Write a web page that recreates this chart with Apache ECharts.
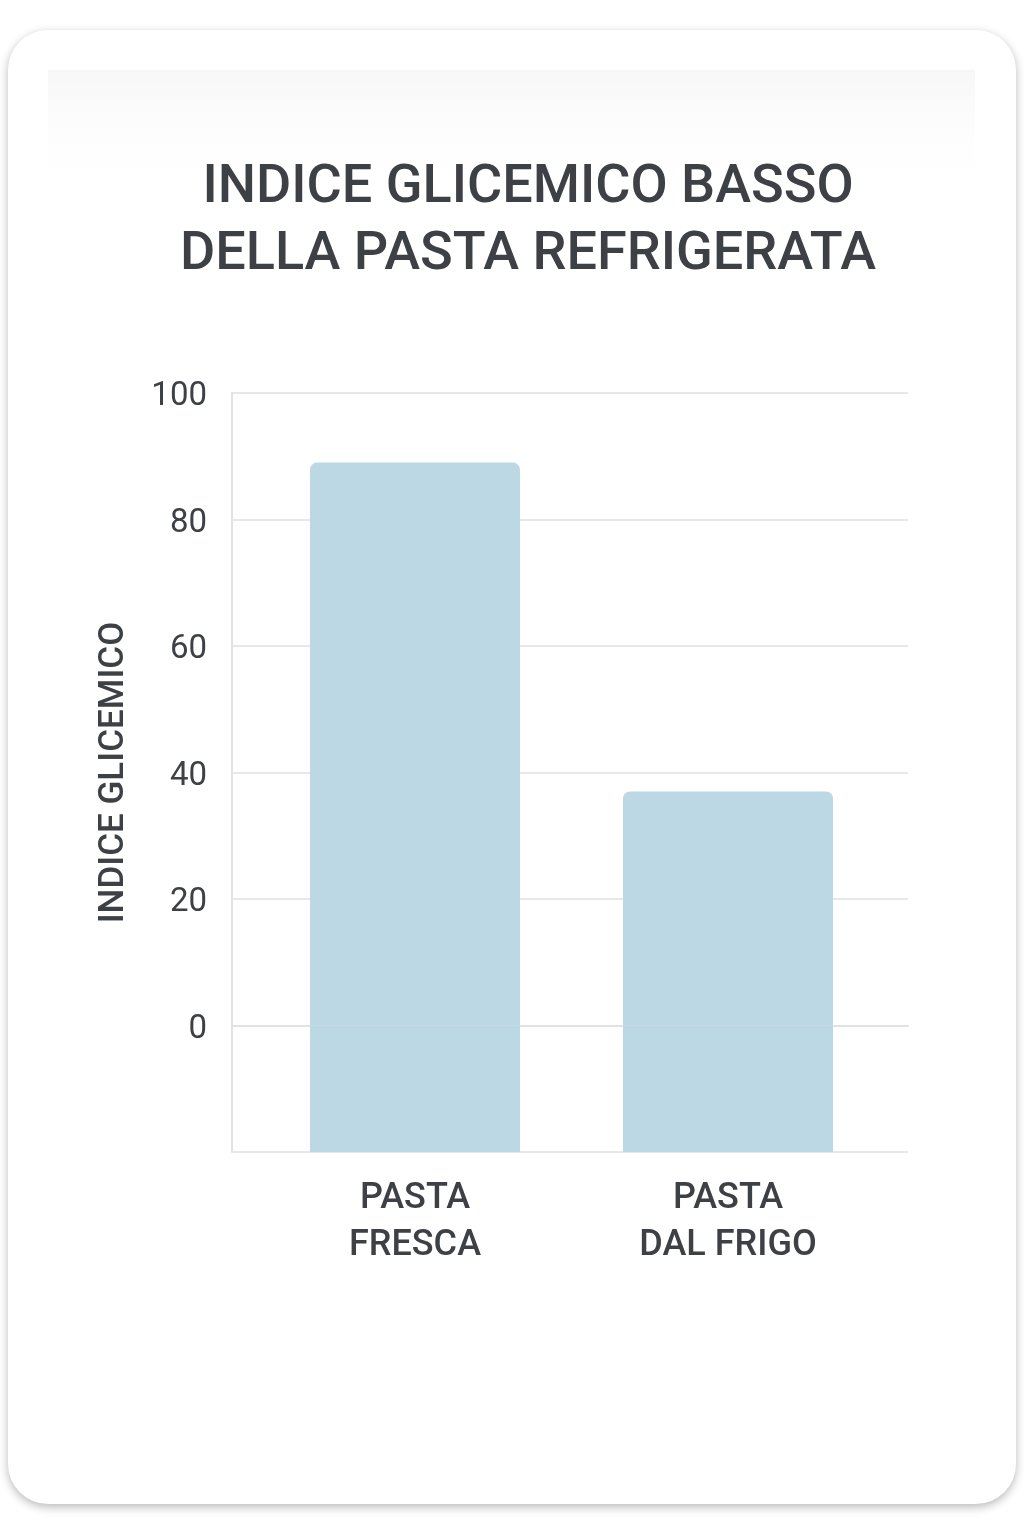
<!DOCTYPE html>
<html>
<head>
<meta charset="utf-8">
<script src="https://cdn.jsdelivr.net/npm/echarts@6/dist/echarts.min.js"></script>
<style>
html,body{margin:0;padding:0;background:#ffffff;}
#chart{width:1024px;height:1536px;}
</style>
</head>
<body>
<div id="chart"></div>
<script>
const titleLines = ['INDICE GLICEMICO BASSO', 'DELLA PASTA REFRIGERATA'];
const categories = ['PASTA\nFRESCA', 'PASTA\nDAL FRIGO'];
const values = [89, 37];
const yAxisName = 'INDICE GLICEMICO';
const yMin = -20, yMax = 100, yInterval = 20;

const textColor = '#3d4146';
const barColor = '#bcd8e5';
const font = 'Roboto';

const chart = echarts.init(document.getElementById('chart'), null, {renderer: 'canvas'});
chart.setOption({
  backgroundColor: '#ffffff',
  animation: false,
  graphic: [
    {type: 'rect', z: -20, shape: {x: 8, y: 30, width: 1008, height: 1474, r: 40},
     style: {fill: '#ffffff', shadowBlur: 10, shadowOffsetY: 3, shadowColor: 'rgba(0,0,0,0.28)'}},
    {type: 'rect', z: -15, shape: {x: 48, y: 70, width: 927, height: 130},
     style: {fill: {type: 'linear', x: 0, y: 0, x2: 0, y2: 1, colorStops: [
       {offset: 0, color: '#f7f7f7'}, {offset: 1, color: 'rgba(255,255,255,0)'}]}}},
    {type: 'text', z: 10, x: 528, y: 222,
     style: {text: titleLines.join('\n'), align: 'center', verticalAlign: 'middle',
       font: '500 54px Roboto', fill: textColor, lineHeight: 67}}
  ],
  grid: [
    {left: 232, right: 116, top: 393, height: 759, containLabel: false},
    {left: 258.5, right: 139.5, top: 393, height: 759, containLabel: false}
  ],
  xAxis: [
    {gridIndex: 0, type: 'category', data: categories,
     axisLine: {lineStyle: {color: '#e2e2e2', width: 2}}, axisTick: {show: false}, axisLabel: {show: false}},
    {gridIndex: 1, type: 'category', data: categories,
     axisLine: {show: false}, axisTick: {show: false},
     axisLabel: {margin: 23, fontFamily: font, fontSize: 36, fontWeight: 500, color: textColor, lineHeight: 47}}
  ],
  yAxis: [
    {gridIndex: 0, type: 'value', min: yMin, max: yMax, interval: yInterval,
     name: yAxisName, nameLocation: 'middle', nameGap: 100, nameRotate: 90,
     nameTextStyle: {fontFamily: font, fontSize: 35, fontWeight: 500, color: textColor},
     axisLine: {show: true, lineStyle: {color: '#e2e2e2', width: 2}}, axisTick: {show: false},
     axisLabel: {margin: 25,
       formatter: v => (v < 0 ? '' : '{t|' + v + '}'),
       rich: {t: {fontFamily: font, fontSize: 33, color: textColor, padding: [8, 0, 0, 0]}}},
     splitLine: {show: true, lineStyle: {color: '#e8e8e8', width: 2}}},
    {gridIndex: 1, type: 'value', min: yMin, max: yMax, interval: yInterval, show: false,
     splitLine: {show: false}}
  ],
  series: [
    {type: 'bar', name: 'base', xAxisIndex: 1, yAxisIndex: 1, stack: 'g', barWidth: 210,
     data: categories.map(() => yMin), itemStyle: {color: barColor}, silent: true},
    {type: 'bar', name: 'IG', xAxisIndex: 1, yAxisIndex: 1, stack: 'g', barWidth: 210,
     data: values, itemStyle: {color: barColor, borderRadius: [7, 7, 0, 0]}}
  ]
});
</script>
</body>
</html>
